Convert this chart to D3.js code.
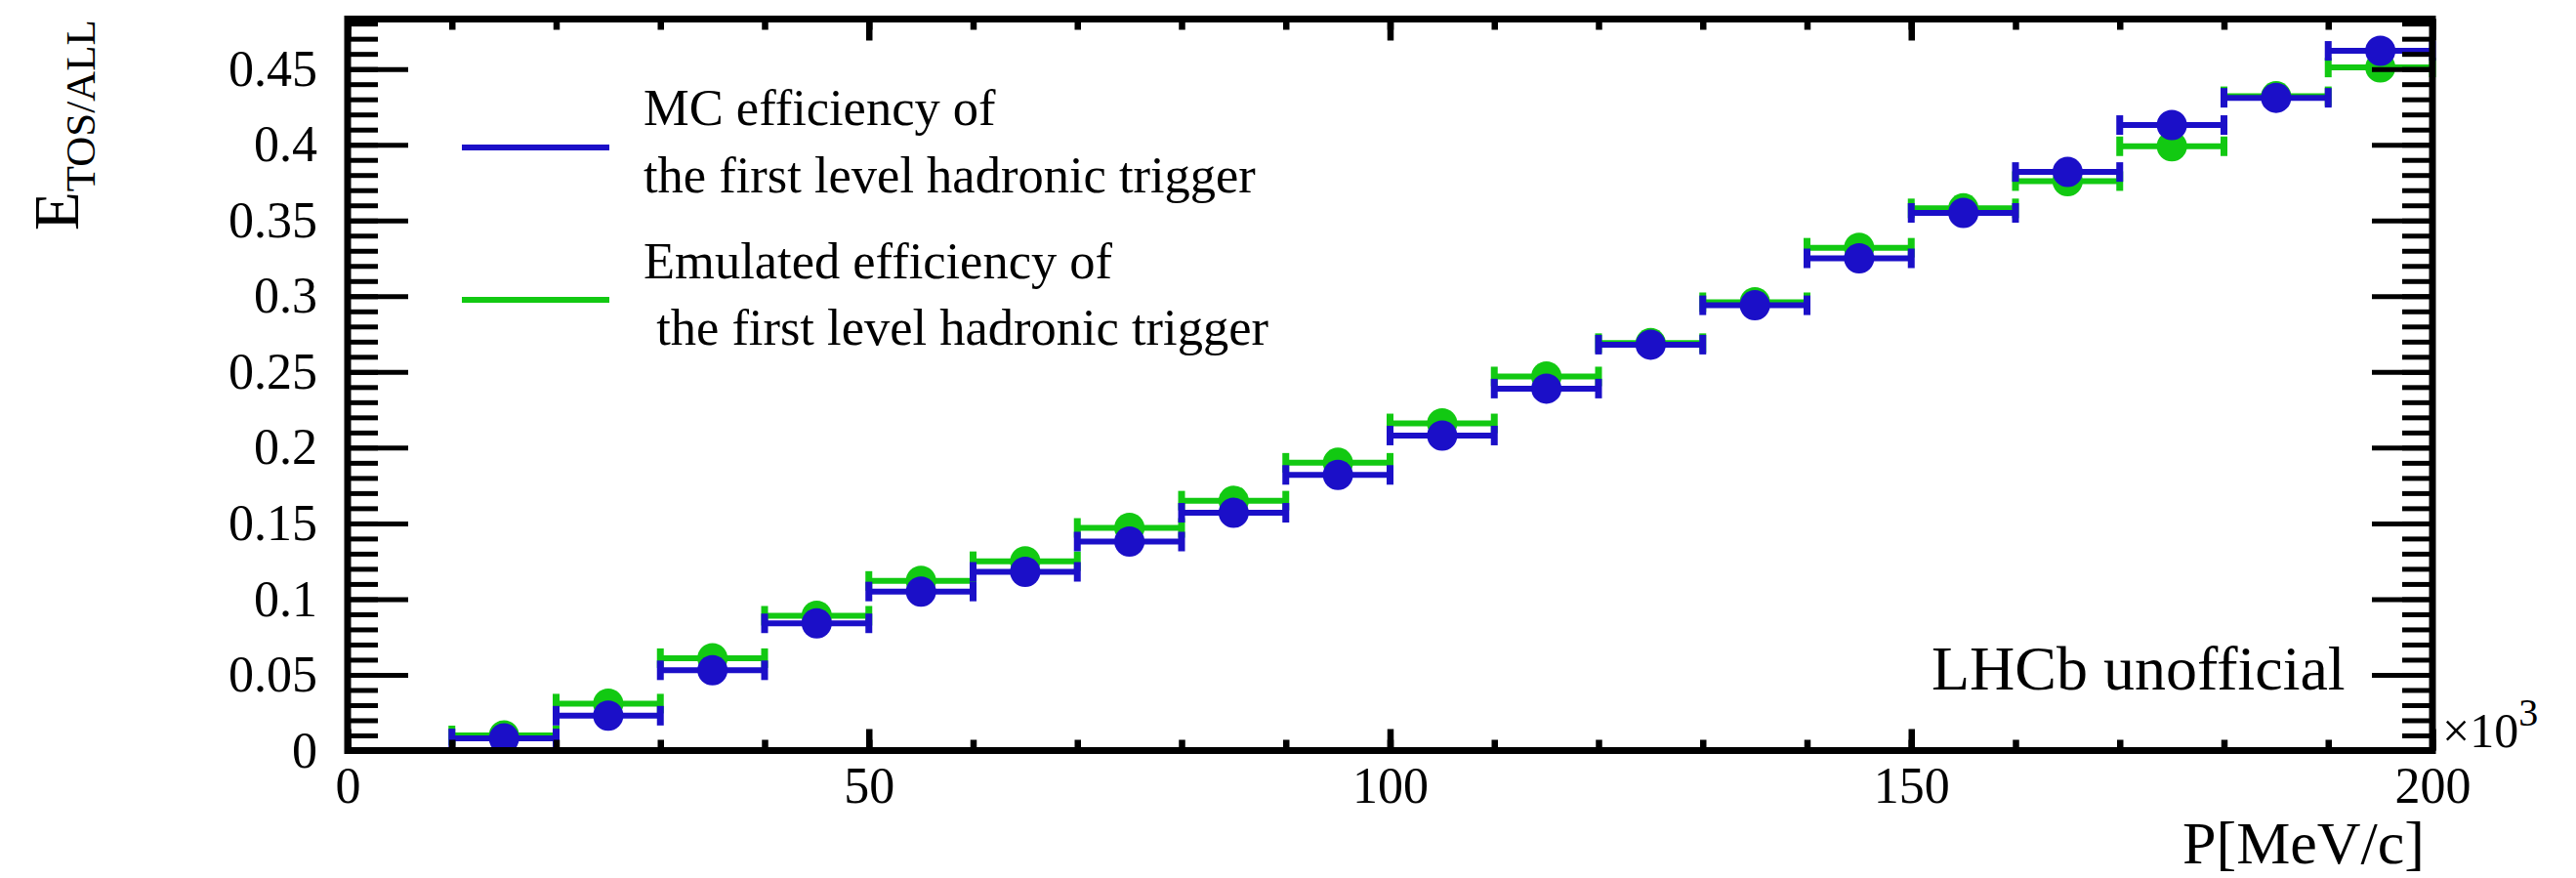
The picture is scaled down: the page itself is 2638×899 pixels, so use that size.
<!DOCTYPE html>
<html>
<head>
<meta charset="utf-8">
<script src="https://cdn.jsdelivr.net/npm/d3@7"></script>
<style>
  html, body { margin: 0; padding: 0; background: #ffffff; }
  svg { display: block; }
  text { font-family: "Liberation Serif", "Times New Roman", serif; fill: #000; }
</style>
</head>
<body>
<svg id="chart" width="2638" height="899"></svg>
<script>
// Momentum bin edges (units of 10^3 MeV/c)
const binEdges = [10, 20, 30, 40, 50, 60, 70, 80, 90, 100, 110, 120, 130, 140, 150, 160, 170, 180, 190, 200];

// Trigger efficiency per momentum bin
const mcEfficiency = [0.008, 0.023, 0.053, 0.084, 0.105, 0.118, 0.138, 0.157, 0.182, 0.208,
                      0.239, 0.268, 0.294, 0.325, 0.355, 0.382, 0.413, 0.431, 0.462];
const emulatedEfficiency = [0.010, 0.031, 0.061, 0.089, 0.112, 0.125, 0.147, 0.165, 0.190, 0.216,
                            0.247, 0.269, 0.296, 0.332, 0.358, 0.376, 0.399, 0.432, 0.451];

// Axis ticks and labels
const xMajorTicks = [0, 50, 100, 150, 200];
const xTickLabels = ["0", "50", "100", "150", "200"];
const xMinorTicks = d3.range(0, 201, 10);
const yMajorTicks = [0, 0.05, 0.1, 0.15, 0.2, 0.25, 0.3, 0.35, 0.4, 0.45];
const yTickLabels = ["0", "0.05", "0.1", "0.15", "0.2", "0.25", "0.3", "0.35", "0.4", "0.45"];
const yMinorTicks = d3.range(0, 49).map(i => i / 100);

const seriesNames = [
  ["MC efficiency of", "the first level hadronic trigger"],
  ["Emulated efficiency of", " the first level hadronic trigger"]
];

const BLUE = "#1b0fc8";
const GREEN = "#12c912";

const frame = { left: 356, right: 2491, top: 19.5, bottom: 768.5 };

const svg = d3.select("#chart");

const x = d3.scaleLinear().domain([0, 200]).range([frame.left, frame.right]);
const y = d3.scaleLinear().domain([0, 0.483]).range([frame.bottom, frame.top]);

// ----- data: horizontal bin-width bars with end caps and round markers -----
function drawSeries(values, color) {
  const g = svg.append("g");
  const bins = values.map((v, i) => ({ lo: binEdges[i], hi: binEdges[i + 1], v }));
  g.selectAll("line.bar").data(bins).join("line")
    .attr("x1", d => x(d.lo)).attr("x2", d => x(d.hi))
    .attr("y1", d => y(d.v)).attr("y2", d => y(d.v))
    .attr("stroke", color).attr("stroke-width", 6);
  const caps = bins.flatMap(d => [{ e: d.lo, v: d.v }, { e: d.hi, v: d.v }]);
  g.selectAll("rect.cap").data(caps).join("rect")
    .attr("x", d => x(d.e) - 3.5).attr("y", d => y(d.v) - 10)
    .attr("width", 7).attr("height", 20)
    .attr("fill", color);
  g.selectAll("circle").data(bins).join("circle")
    .attr("cx", d => x((d.lo + d.hi) / 2)).attr("cy", d => y(d.v))
    .attr("r", 15.5).attr("fill", color);
}
drawSeries(emulatedEfficiency, GREEN);
drawSeries(mcEfficiency, BLUE);

// ----- axes (ticks pointing into the frame on all four sides) -----
function styleAxis(g, width) {
  g.select(".domain").remove();
  g.selectAll(".tick line").attr("stroke", "#000").attr("stroke-width", width);
  g.selectAll("text").attr("font-size", 52).attr("fill", "#000")
    .style("font-family", '"Liberation Serif", "Times New Roman", serif');
}

// left
svg.append("g").attr("transform", `translate(${frame.left},0)`)
  .call(d3.axisLeft(y).tickValues(yMinorTicks).tickSize(-31).tickFormat(""))
  .call(g => styleAxis(g, 5));
svg.append("g").attr("transform", `translate(${frame.left},0)`)
  .call(d3.axisLeft(y).tickValues(yMajorTicks).tickSize(-62).tickPadding(31)
    .tickFormat((d, i) => yTickLabels[i]))
  .call(g => styleAxis(g, 5));
// right
svg.append("g").attr("transform", `translate(${frame.right},0)`)
  .call(d3.axisRight(y).tickValues(yMinorTicks).tickSize(-31).tickFormat(""))
  .call(g => styleAxis(g, 5));
svg.append("g").attr("transform", `translate(${frame.right},0)`)
  .call(d3.axisRight(y).tickValues(yMajorTicks).tickSize(-62).tickFormat(""))
  .call(g => styleAxis(g, 5));
// bottom
svg.append("g").attr("transform", `translate(0,${frame.bottom})`)
  .call(d3.axisBottom(x).tickValues(xMinorTicks).tickSize(-11).tickFormat(""))
  .call(g => styleAxis(g, 6.5));
svg.append("g").attr("transform", `translate(0,${frame.bottom})`)
  .call(d3.axisBottom(x).tickValues(xMajorTicks).tickSize(-22).tickPadding(17)
    .tickFormat((d, i) => xTickLabels[i]))
  .call(g => styleAxis(g, 6.5));
// top
svg.append("g").attr("transform", `translate(0,${frame.top})`)
  .call(d3.axisTop(x).tickValues(xMinorTicks).tickSize(-11).tickFormat(""))
  .call(g => styleAxis(g, 6.5));
svg.append("g").attr("transform", `translate(0,${frame.top})`)
  .call(d3.axisTop(x).tickValues(xMajorTicks).tickSize(-22).tickFormat(""))
  .call(g => styleAxis(g, 6.5));

// frame
svg.append("rect")
  .attr("x", frame.left).attr("y", frame.top)
  .attr("width", frame.right - frame.left).attr("height", frame.bottom - frame.top)
  .attr("fill", "none").attr("stroke", "#000").attr("stroke-width", 7);

// ----- axis titles -----
svg.append("text")
  .attr("x", 2483).attr("y", 884)
  .attr("text-anchor", "end").attr("font-size", 62)
  .text("P[MeV/c]");

const xExp = svg.append("text").attr("x", 2501).attr("y", 765).attr("font-size", 50);
xExp.append("tspan").text("\u00d710");
xExp.append("tspan").attr("font-size", 40).attr("dy", -22).text("3");

const yTitle = svg.append("text")
  .attr("transform", "translate(80,236) rotate(-90)")
  .attr("font-size", 65);
yTitle.append("tspan").text("E");
yTitle.append("tspan").attr("font-size", 43).attr("dy", 17).text("TOS/ALL");

// ----- legend -----
const legend = svg.append("g");
const legendRows = [
  { color: BLUE, lineY: 151, textY: [128, 197], lines: seriesNames[0] },
  { color: GREEN, lineY: 307, textY: [285, 353], lines: seriesNames[1] }
];
legendRows.forEach(r => {
  legend.append("line")
    .attr("x1", 473).attr("x2", 624).attr("y1", r.lineY).attr("y2", r.lineY)
    .attr("stroke", r.color).attr("stroke-width", 6);
  r.lines.forEach((t, i) => {
    legend.append("text")
      .attr("x", 659).attr("y", r.textY[i])
      .attr("font-size", 52.5)
      .style("white-space", "pre")
      .text(t);
  });
});

// watermark
svg.append("text")
  .attr("x", 1978).attr("y", 706)
  .attr("font-size", 64)
  .text("LHCb unofficial");
</script>
</body>
</html>
